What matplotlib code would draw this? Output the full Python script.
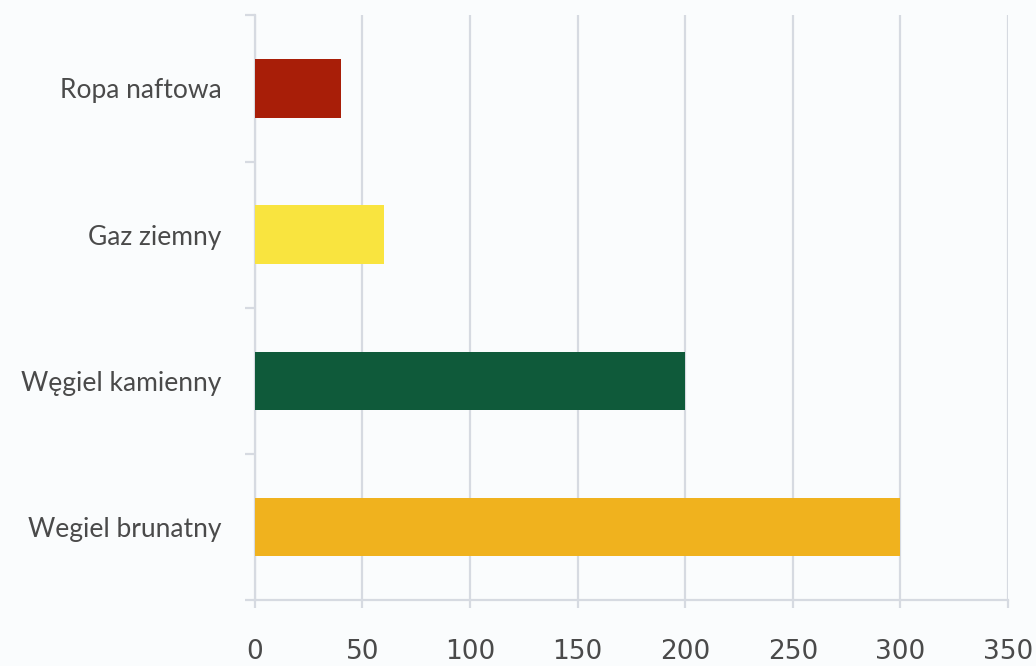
import matplotlib.pyplot as plt
import numpy as np

# fuel type -> value, top to bottom
categories = ["Ropa naftowa", "Gaz ziemny", "Węgiel kamienny", "Wegiel brunatny"]
values = [40, 60, 200, 300]
colors = ["#A81E08", "#F9E43F", "#0F5A3A", "#F0B21E"]
xticks = [0, 50, 100, 150, 200, 250, 300, 350]

plt.rcParams["font.family"] = ["Lato", "DejaVu Sans"]

fig = plt.figure(figsize=(10.36, 6.66), dpi=100, facecolor="#FAFCFD")
ax = fig.add_axes([0.246, 0.099, 0.727, 0.878], facecolor="#FAFCFD")

pos = np.arange(len(categories))
ax.barh(pos, values, height=0.4, color=colors, zorder=3)

ax.set_xlim(0, 350)
ax.set_ylim(len(categories) - 0.5, -0.5)
ax.set_xticks(xticks)
ax.set_xticklabels([str(t) for t in xticks],
                   family=["Liberation Sans Narrow", "DejaVu Sans"])
ax.set_yticks(pos)
ax.set_yticklabels(categories)
ax.set_yticks(np.arange(len(categories) + 1) - 0.5, minor=True)

grid_c = "#D6DAE1"
ax.grid(axis="x", color=grid_c, linewidth=1.6, zorder=0)
for side in ("top", "right"):
    ax.spines[side].set_visible(False)
for side in ("left", "bottom"):
    ax.spines[side].set_color(grid_c)
    ax.spines[side].set_linewidth(1.6)

ax.tick_params(axis="y", which="major", length=0, pad=24,
               labelsize=19, labelcolor="#4A4A4A")
ax.tick_params(axis="y", which="minor", length=7, width=1.6, color=grid_c)
ax.tick_params(axis="x", length=6, width=1.6, color=grid_c, pad=22,
               labelsize=19, labelcolor="#4A4A4A")

fig.savefig("out.png", dpi=100, facecolor=fig.get_facecolor())
